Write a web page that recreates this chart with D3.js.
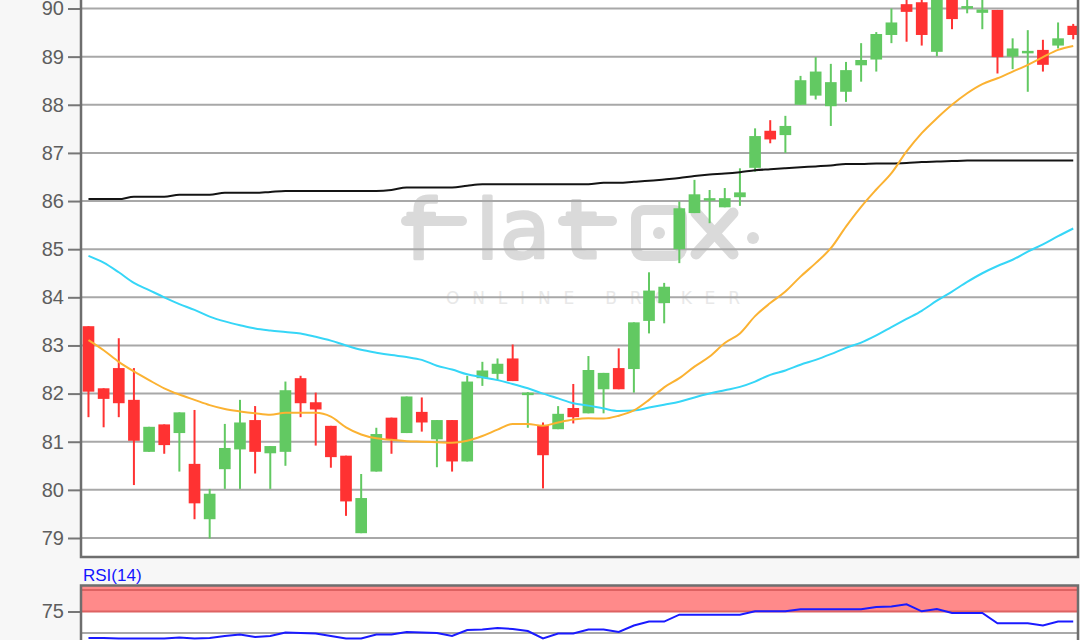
<!DOCTYPE html>
<html><head><meta charset="utf-8">
<script src="https://cdn.jsdelivr.net/npm/d3@7"></script>
<style>html,body{margin:0;padding:0;background:#f7f7f7;overflow:hidden}</style>
</head><body><svg id="c" width="1080" height="640"></svg>
<script>
// ---- data ----
const categories = d3.range(66).map(i => "S" + (i + 1));
const open  = [83.40,82.11,82.53,81.87,80.79,81.36,81.18,80.54,79.39,80.43,80.84,81.45,80.76,80.79,82.32,81.82,81.33,80.71,79.10,80.38,81.50,81.18,81.62,81.05,81.45,80.59,82.32,82.41,82.73,82.00,81.35,81.26,81.70,81.59,82.09,82.53,82.51,83.51,83.88,85.00,85.75,86.02,85.87,86.08,86.69,87.46,87.37,88.00,88.19,87.97,88.27,88.82,88.94,89.45,90.09,90.13,89.10,90.35,90.01,89.91,89.97,89.00,89.07,89.14,89.23,89.64];
const high  = [83.40,82.11,83.15,82.53,81.31,81.36,81.61,81.66,80.02,81.37,81.87,81.74,80.91,82.25,82.37,82.02,81.33,80.71,80.33,81.29,81.50,81.94,81.92,81.45,81.45,82.37,82.66,82.73,83.02,82.03,81.40,81.74,82.20,82.78,82.43,82.94,83.48,84.52,84.30,85.99,86.44,86.23,86.27,86.68,87.51,87.68,87.77,88.60,88.99,88.85,88.89,89.28,89.51,90.00,90.40,90.30,90.60,90.50,90.30,90.20,89.97,89.38,89.55,89.35,89.71,89.68];
const low   = [81.51,81.30,81.51,80.10,80.79,80.75,80.38,79.39,78.99,80.02,80.02,80.34,80.02,80.50,81.51,80.92,80.46,79.46,79.10,80.38,80.75,81.18,81.21,80.47,80.38,80.59,82.16,82.28,82.26,81.29,80.03,81.26,81.38,81.59,81.59,82.09,82.02,83.25,83.46,84.71,85.75,85.54,85.87,85.90,86.61,87.20,87.00,88.00,88.11,87.56,88.06,88.48,88.69,89.28,89.31,89.23,89.01,89.57,89.90,89.57,88.65,88.74,88.27,88.69,89.17,89.36];
const close = [82.04,81.89,81.80,81.02,81.31,80.93,81.61,79.72,79.92,80.87,81.40,80.79,80.91,82.07,81.80,81.67,80.68,79.76,79.83,81.16,81.04,81.94,81.40,81.45,80.59,82.25,82.48,82.62,82.26,82.02,80.72,81.58,81.51,82.49,82.43,82.09,83.48,84.14,84.22,85.85,86.14,86.06,86.06,86.18,87.35,87.28,87.56,88.51,88.69,88.47,88.72,88.93,89.47,89.71,89.93,89.45,90.40,89.78,90.05,89.98,88.99,89.17,89.12,88.83,89.38,89.45];
const ma20  = [83.11,82.90,82.66,82.46,82.28,82.11,81.98,81.87,81.76,81.68,81.63,81.59,81.56,81.60,81.60,81.60,81.52,81.30,81.15,81.07,81.04,81.01,81.00,80.99,80.98,81.02,81.12,81.25,81.37,81.37,81.33,81.40,81.46,81.49,81.48,81.54,81.65,81.87,82.13,82.32,82.56,82.77,83.05,83.25,83.61,83.88,84.12,84.43,84.71,85.02,85.47,85.88,86.24,86.58,87.03,87.41,87.72,88.00,88.24,88.43,88.55,88.69,88.83,88.99,89.14,89.22];
const ma50  = [84.86,84.72,84.52,84.30,84.15,84.00,83.86,83.74,83.60,83.50,83.42,83.35,83.31,83.28,83.25,83.18,83.10,83.00,82.91,82.85,82.80,82.76,82.70,82.58,82.50,82.40,82.34,82.28,82.20,82.11,82.00,81.90,81.80,81.75,81.69,81.64,81.65,81.71,81.77,81.83,81.92,82.00,82.07,82.14,82.25,82.39,82.48,82.60,82.70,82.82,82.95,83.06,83.21,83.38,83.55,83.72,83.93,84.12,84.32,84.50,84.65,84.78,84.95,85.10,85.27,85.43];
const ma200 = [86.04,86.04,86.04,86.09,86.09,86.09,86.13,86.13,86.13,86.17,86.17,86.17,86.19,86.21,86.21,86.21,86.21,86.21,86.21,86.21,86.23,86.28,86.28,86.28,86.28,86.32,86.35,86.35,86.35,86.35,86.35,86.35,86.35,86.35,86.38,86.38,86.40,86.42,86.45,86.48,86.52,86.55,86.57,86.60,86.64,86.66,86.68,86.70,86.72,86.74,86.77,86.77,86.78,86.78,86.79,86.81,86.82,86.83,86.84,86.84,86.84,86.84,86.84,86.84,86.84,86.84];
const rsi14 = [44.2,44.2,43.6,43.6,43.6,43.6,44.8,43.6,44.2,46.5,48.3,45.3,46.5,50.6,50.0,49.4,46.5,43.6,43.6,48.3,48.3,51.2,50.6,50.0,46.5,53.5,54.1,55.8,54.7,52.3,43.6,49.4,49.4,54.1,54.1,51.2,58.7,63.3,63.3,71.3,71.3,71.3,71.3,71.3,75.2,75.2,75.2,77.7,77.7,77.7,77.7,77.7,80.1,80.8,83.3,75.2,78.0,73.3,73.3,73.3,61.3,61.3,61.3,58.8,63.3,63.3];
const priceTicks = [79,80,81,82,83,84,85,86,87,88,89,90];
const rsiLabelTicks = [75];
const rsiGridTicks = [50];
const rsiBand = [75, 100];

// ---- layout ----
const svg = d3.select("#c");
const L = 81, R = 1078, mainBottom = 557, rsiTop = 585.5;
const x = d3.scaleBand().domain(categories).range([80.9, 1080.8]);
const cx = c => x(c) + x.bandwidth() / 2;
const bw = x.bandwidth() * 0.77;
const y = d3.scaleLinear().domain([79, 90]).range([538, 8.5]);
const yR = d3.scaleLinear().domain([50, 100]).range([633, 590]);

const defs = svg.append("defs");
defs.append("clipPath").attr("id","cm").append("rect").attr("x",L).attr("y",-20).attr("width",R-L).attr("height",mainBottom+20);
defs.append("clipPath").attr("id","cr").append("rect").attr("x",L).attr("y",rsiTop).attr("width",R-L).attr("height",640-rsiTop);

// background panels
svg.append("rect").attr("x",0).attr("y",0).attr("width",1080).attr("height",640).attr("fill","#f7f7f7");
svg.append("rect").attr("x",L).attr("y",-10).attr("width",R-L).attr("height",mainBottom+10).attr("fill","#fff");
svg.append("rect").attr("x",L).attr("y",rsiTop).attr("width",R-L).attr("height",640-rsiTop).attr("fill","#fff");

// watermark
const wmC = "#dadada";
const wm = svg.append("g").attr("fill",wmC).attr("font-family","DejaVu Sans").attr("font-size",82)
  .attr("stroke",wmC).attr("stroke-width",3).attr("stroke-linejoin","round");
wm.append("text").attr("x",406).attr("y",258).text("f");
wm.append("path").attr("d","M406,221 H462").attr("stroke-width",10).attr("stroke-linecap","round");
wm.append("text").attr("x",476).attr("y",258).text("l");
wm.append("text").attr("x",500).attr("y",258).text("a");
wm.append("text").attr("x",565).attr("y",258).text("t");
wm.append("path").attr("d","M563,221 H612").attr("stroke-width",10).attr("stroke-linecap","round");
wm.append("rect").attr("x",636).attr("y",210).attr("width",46).attr("height",46).attr("rx",8)
  .attr("fill","none").attr("stroke-width",10);
wm.append("circle").attr("cx",659).attr("cy",233).attr("r",6).attr("stroke","none");
wm.append("path").attr("d","M696,213 L733,254 M733,213 L696,254").attr("stroke-width",11).attr("stroke-linecap","round");
wm.append("circle").attr("cx",753).attr("cy",238).attr("r",6).attr("stroke","none");
svg.append("text").attr("x",446).attr("y",304).attr("font-family","DejaVu Sans").attr("font-size",17)
  .attr("textLength",294).attr("lengthAdjust","spacing").attr("fill","#e8e8e8").text("ONLINE BROKER");

// gridlines main
svg.append("g").selectAll("line").data(priceTicks).join("line")
  .attr("x1",L).attr("x2",R).attr("y1",d=>y(d)).attr("y2",d=>y(d))
  .attr("stroke","#a8a8a8").attr("stroke-width",2);

// candles
const gC = svg.append("g").attr("clip-path","url(#cm)");
const col = i => close[i] >= open[i] ? "#62c962" : "#ff3232";
gC.selectAll("line.w").data(categories).join("line").attr("class","w")
  .attr("x1",(c)=>cx(c)).attr("x2",(c)=>cx(c))
  .attr("y1",(c,i)=>y(high[i])).attr("y2",(c,i)=>y(low[i]))
  .attr("stroke",(c,i)=>col(i)).attr("stroke-width",2);
gC.selectAll("rect.b").data(categories).join("rect").attr("class","b")
  .attr("x",c=>cx(c)-bw/2).attr("width",bw)
  .attr("y",(c,i)=>y(Math.max(open[i],close[i])))
  .attr("height",(c,i)=>Math.max(2.5, Math.abs(y(open[i])-y(close[i]))))
  .attr("fill",(c,i)=>col(i));

// moving averages
const lineOf = arr => d3.line().x((c)=>cx(c)).y((c,i)=>y(arr[i])).curve(d3.curveMonotoneX)(categories);
[[ma200,"#141414"],[ma50,"#36d6f7"],[ma20,"#fbb232"]].forEach(([arr,c])=>{
  gC.append("path").attr("d",lineOf(arr)).attr("fill","none").attr("stroke",c).attr("stroke-width",2);
});

// main axis
const axM = svg.append("g").attr("transform",`translate(${L},0)`)
  .call(d3.axisLeft(y).tickValues(priceTicks).tickSize(13).tickPadding(4).tickFormat(d3.format("d")));
axM.select(".domain").remove();
axM.selectAll(".tick line").attr("stroke","#777").attr("stroke-width",2);
axM.selectAll(".tick text").attr("fill","#5e5e5e").attr("font-family","Liberation Sans, Arial").attr("font-size",20);
// frame main
svg.append("path").attr("d",`M${L},-5 V${mainBottom} H${R} V-5`).attr("fill","none").attr("stroke","#6e6e6e").attr("stroke-width",2.5);

// RSI panel
svg.append("text").attr("x",83).attr("y",581).attr("fill","#1414ff").attr("font-family","Liberation Sans, Arial").attr("font-size",17).text("RSI(14)");
const gR = svg.append("g").attr("clip-path","url(#cr)");
gR.append("rect").attr("x",L).attr("y",rsiTop).attr("width",R-L).attr("height",yR(rsiBand[0])-rsiTop).attr("fill","#ff8a8a");
gR.selectAll("line.band").data(rsiBand).join("line").attr("class","band")
  .attr("x1",L).attr("x2",R).attr("y1",d=>yR(d)).attr("y2",d=>yR(d)).attr("stroke","#dd6262").attr("stroke-width",2);
gR.selectAll("line.g").data(rsiGridTicks).join("line").attr("class","g")
  .attr("x1",L).attr("x2",R).attr("y1",d=>yR(d)).attr("y2",d=>yR(d)).attr("stroke","#a8a8a8").attr("stroke-width",2);
gR.append("path").attr("d",d3.line().x(c=>cx(c)).y((c,i)=>yR(rsi14[i]))(categories))
  .attr("fill","none").attr("stroke","#1a1aff").attr("stroke-width",2);
const axR = svg.append("g").attr("transform",`translate(${L},0)`)
  .call(d3.axisLeft(yR).tickValues(rsiLabelTicks).tickSize(13).tickPadding(4));
axR.select(".domain").remove();
axR.selectAll(".tick line").attr("stroke","#777").attr("stroke-width",2);
axR.selectAll(".tick text").attr("fill","#5e5e5e").attr("font-family","Liberation Sans, Arial").attr("font-size",20);
svg.append("path").attr("d",`M${L},645 V${rsiTop} H${R} V645`).attr("fill","none").attr("stroke","#6e6e6e").attr("stroke-width",2.5);
</script></body></html>
